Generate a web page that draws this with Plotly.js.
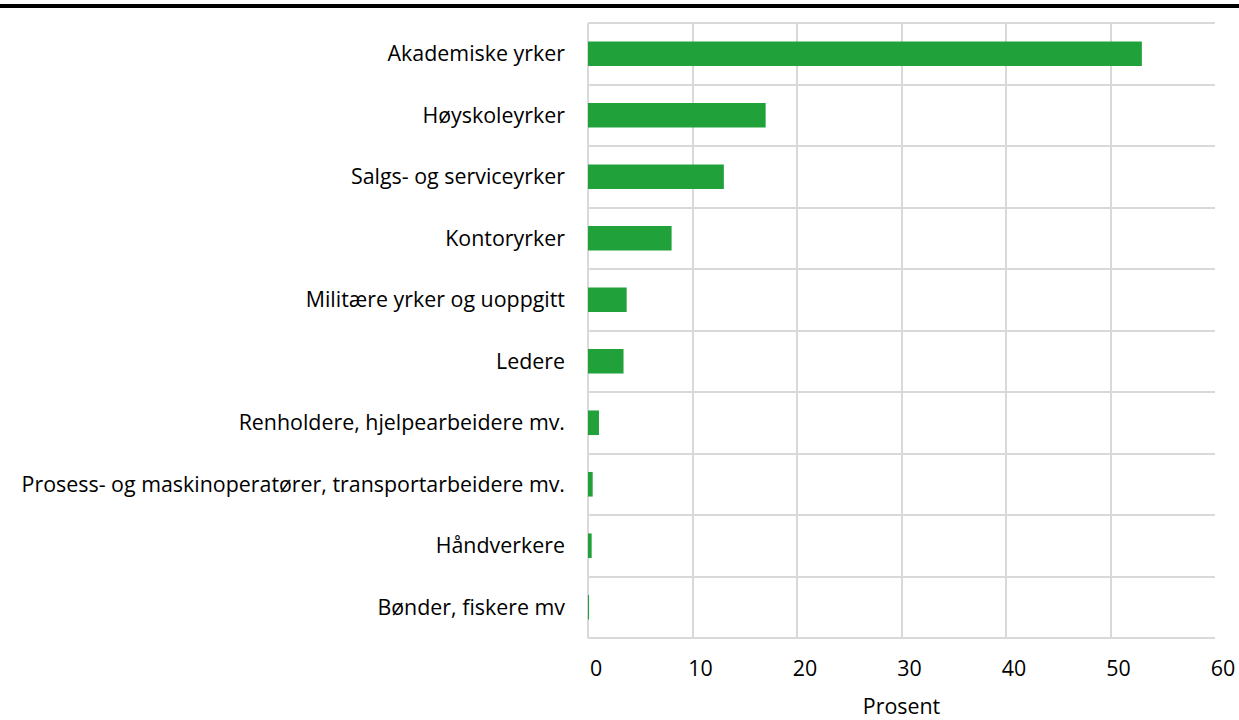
<!DOCTYPE html>
<html>
<head>
<meta charset="utf-8">
<script src="https://cdn.plot.ly/plotly-3.0.1.min.js"></script>
<style>html,body{margin:0;padding:0;background:#fff;}#chart{width:1239px;height:720px;}</style>
</head>
<body>
<div id="chart"></div>
<script>
const categories = [
  "Akademiske yrker",
  "Høyskoleyrker",
  "Salgs- og serviceyrker",
  "Kontoryrker",
  "Militære yrker og uoppgitt",
  "Ledere",
  "Renholdere, hjelpearbeidere mv.",
  "Prosess- og maskinoperatører, transportarbeidere mv.",
  "Håndverkere",
  "Bønder, fiskere mv"
];
const values = [53.0, 17.0, 13.0, 8.0, 3.7, 3.4, 1.05, 0.45, 0.35, 0.1];
const xTicks = [0, 10, 20, 30, 40, 50, 60];
const xTitle = "Prosent";

const trace = {
  type: "bar",
  orientation: "h",
  y: categories,
  x: values,
  width: 0.4,
  marker: {color: "#21a13a", line: {width: 0}},
  hoverinfo: "x+y"
};

const FS = 21.4;
const layout = {
  width: 1239,
  height: 720,
  margin: {l: 588, r: 24, t: 23, b: 82},
  paper_bgcolor: "#ffffff",
  plot_bgcolor: "#ffffff",
  font: {family: "Open Sans, sans-serif", size: FS, color: "#000000"},
  showlegend: false,
  xaxis: {
    range: [0, 60],
    tickvals: xTicks,
    ticktext: xTicks.map(String),
    showgrid: true,
    gridcolor: "#d9d9d9",
    gridwidth: 2,
    zeroline: true,
    zerolinecolor: "#d9d9d9",
    zerolinewidth: 2,
    showline: false,
    ticks: "",
    ticklabelstandoff: 16,
    ticklabelshift: 8,
    tickfont: {size: FS, color: "#000"},
    title: {text: xTitle, font: {size: FS, color: "#000"}, standoff: 24},
    fixedrange: true
  },
  yaxis: {
    type: "category",
    categoryorder: "array",
    categoryarray: categories.slice().reverse(),
    autorange: false,
    range: [-0.5, categories.length - 0.5],
    tickson: "boundaries",
    showgrid: true,
    gridcolor: "#d9d9d9",
    gridwidth: 2,
    showline: false,
    ticks: "",
    ticklabelstandoff: 22,
    tickfont: {size: FS, color: "#000"},
    fixedrange: true
  },
  shapes: [
    {type: "line", xref: "paper", yref: "paper", x0: 0, x1: 1, y0: 1, y1: 1,
     line: {color: "#d9d9d9", width: 2}},
    {type: "line", xref: "paper", yref: "paper", x0: 0, x1: 1, y0: 0, y1: 0,
     line: {color: "#d9d9d9", width: 2}},
    {type: "line", xref: "paper", yref: "paper", x0: -588/627, x1: 1 + 24/627,
     y0: 1 + 17/615, y1: 1 + 17/615, line: {color: "#000000", width: 4}}
  ]
};

Plotly.newPlot("chart", [trace], layout, {displayModeBar: false, staticPlot: true});
</script>
</body>
</html>
